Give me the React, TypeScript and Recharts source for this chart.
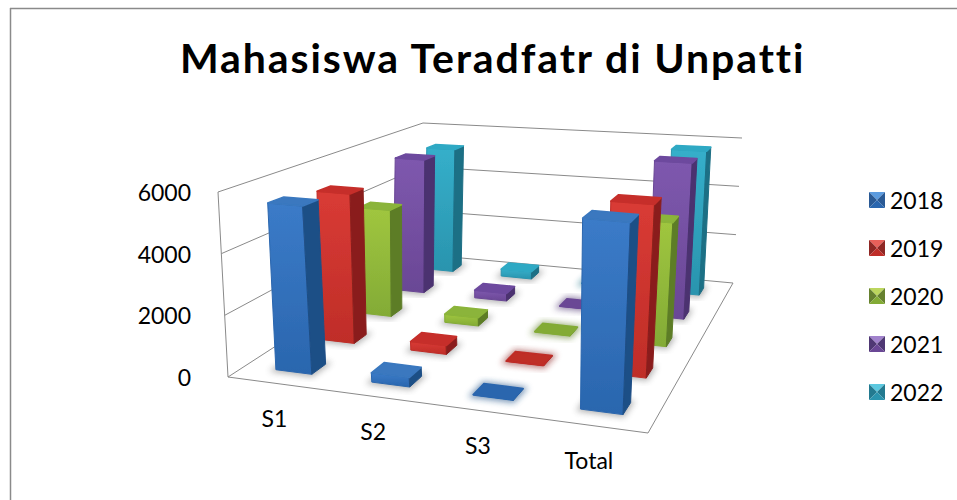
import React from 'react';
import { BarChart, Bar, XAxis, YAxis, Legend, Customized } from 'recharts';

const categories = ['S1', 'S2', 'S3', 'Total'];
const seriesNames = ['2018', '2019', '2020', '2021', '2022'];
const values2018 = [5500, 300, 20, 5900];
const values2019 = [5250, 300, 20, 5700];
const values2020 = [4000, 300, 20, 4350];
const values2021 = [5350, 300, 20, 5850];
const values2022 = [5250, 300, 20, 5750];
const yTicks = [0, 2000, 4000, 6000];
const rows = categories.map((c, i) => ({
  name: c,
  '2018': values2018[i], '2019': values2019[i], '2020': values2020[i], '2021': values2021[i], '2022': values2022[i],
}));

const palette: Record<string, { top: string; a: string; b: string; side: string; lite: string; dark: string }> = {
  '2018': { top: '#3a78bf', a: '#3b7bc8', b: '#2a66ae', side: '#1f4f86', lite: '#5b9bdf', dark: '#2a5a95' },
  '2019': { top: '#c62f2a', a: '#d93b35', b: '#bf2d28', side: '#8a1f1c', lite: '#e8605a', dark: '#8f2724' },
  '2020': { top: '#8bb43a', a: '#a0c63f', b: '#83ab36', side: '#5d7d27', lite: '#bcd65e', dark: '#66812f' },
  '2021': { top: '#6d4a9e', a: '#7e58ae', b: '#6a4795', side: '#4b3270', lite: '#a182cc', dark: '#4f3874' },
  '2022': { top: '#2fa9c4', a: '#35afca', b: '#2a94ae', side: '#1d6f85', lite: '#5cc8df', dark: '#237a90' },
};

// Camera: floor and ceiling quads of the 3D box, [front-left, front-right, back-right, back-left]
type P = [number, number];
const floorQuad: P[] = [[228, 377], [648, 433], [733, 283], [418, 254]];
const ceilQuad: P[] = [[218, 192], [660, 232], [742, 138], [423, 123]];

function homography(q: P[]) {
  const [[x0, y0], [x1, y1], [x2, y2], [x3, y3]] = q;
  const dx1 = x1 - x2, dx2 = x3 - x2, sx = x0 - x1 + x2 - x3;
  const dy1 = y1 - y2, dy2 = y3 - y2, sy = y0 - y1 + y2 - y3;
  const den = dx1 * dy2 - dx2 * dy1;
  const g = (sx * dy2 - dx2 * sy) / den;
  const h = (dx1 * sy - sx * dy1) / den;
  const a = x1 - x0 + g * x1, b = x3 - x0 + h * x3, c = x0;
  const d = y1 - y0 + g * y1, e = y3 - y0 + h * y3, f = y0;
  return (u: number, w: number): P => {
    const k = g * u + h * w + 1;
    return [(a * u + b * w + c) / k, (d * u + e * w + f) / k];
  };
}
const floorH = homography(floorQuad);
const ceilH = homography(ceilQuad);
const project = (u: number, w: number, t: number): P => {
  const p = floorH(u, w), q = ceilH(u, w);
  return [p[0] + (q[0] - p[0]) * t, p[1] + (q[1] - p[1]) * t];
};
const pts = (list: P[]) => list.map((p) => `${p[0].toFixed(1)},${p[1].toFixed(1)}`).join(' ');
const yMax = yTicks[yTicks.length - 1];

const BAR_U = 0.095;
const BAR_W = 0.062;
const U_SHIFT = 0.005;

const makeShape = (name: string, depth: number) => (props: any) => {
  const { index, height, background } = props;
  const t = background && background.height ? Math.max(0, height) / background.height : 0;
  const u0 = (index + 0.5) / categories.length - BAR_U / 2 + U_SHIFT, u1 = u0 + BAR_U;
  const w0 = (depth + 0.5) / seriesNames.length - BAR_W / 2, w1 = w0 + BAR_W;
  const c = palette[name];
  const fb0 = project(u0, w0, 0), fb1 = project(u1, w0, 0), bb1 = project(u1, w1, 0), bb0 = project(u0, w1, 0);
  const ft0 = project(u0, w0, t), ft1 = project(u1, w0, t), bt1 = project(u1, w1, t), bt0 = project(u0, w1, t);
  const flat = t < 0.01;
  return (
    <g>
      <polygon points={pts([fb0, fb1, bb1, bb0])} fill={flat ? c.side : '#555'} opacity={flat ? 0.6 : 0.45} stroke={flat ? c.side : '#555'} strokeWidth={5} filter="url(#soft)" />
      <g filter="url(#crisp)">
        <polygon points={pts([ft0, ft1, fb1, fb0])} fill={`url(#front${name})`} stroke={c.b} strokeWidth={1} strokeLinejoin="round" />
        <polygon points={pts([ft1, bt1, bb1, fb1])} fill={c.side} stroke={c.side} strokeWidth={1} strokeLinejoin="round" />
        <polygon points={pts([ft0, ft1, bt1, bt0])} fill={flat ? c.b : c.top} stroke={flat ? c.b : c.top} strokeWidth={1.5} strokeLinejoin="round" />
      </g>
    </g>
  );
};

const Walls = () => {
  const line = (a: P, b: P, key: string) => (
    <line key={key} x1={a[0]} y1={a[1]} x2={b[0]} y2={b[1]} stroke="#8a8a8a" strokeWidth={1} />
  );
  return (
    <g>
      {yTicks.map((v) => {
        const t = v / yMax;
        return (
          <g key={v}>
            {line(project(0, 0, t), project(0, 1, t), `l${v}`)}
            {line(project(0, 1, t), project(1, 1, t), `b${v}`)}
          </g>
        );
      })}
      {line(project(0, 0, 0), project(0, 0, 1), 'v')}
      {line(project(0, 0, 0), project(1, 0, 0), 'f')}
      {line(project(1, 0, 0), project(1, 1, 0), 'r')}
    </g>
  );
};

const XTick = (props: any) => {
  const i = categories.indexOf(props.payload.value);
  const p = project((i + 0.5) / categories.length, 0, 0);
  return (
    <text x={p[0] - 1} y={p[1] + 44} textAnchor="middle" fontFamily="Lato" fontSize={23} fill="#000">
      {props.payload.value}
    </text>
  );
};
const YTick = (props: any) => {
  const p = project(0, 0, props.payload.value / yMax);
  return (
    <text x={191} y={p[1] + 9} textAnchor="end" fontFamily="Lato" fontSize={23} fill="#000">
      {props.payload.value}
    </text>
  );
};

const Swatch = ({ name }: { name: string }) => {
  const c = palette[name];
  return (
    <svg width={16} height={16} style={{ display: 'block' }}>
      <polygon points="0,0 16,0 8,8" fill={c.lite} />
      <polygon points="0,0 8,8 0,16" fill={c.dark} />
      <polygon points="16,0 8,8 16,16" fill={c.dark} />
      <polygon points="0,16 16,16 8,8" fill={c.b} />
    </svg>
  );
};
const LegendBox = () => (
  <div style={{ position: 'relative', width: 100, height: 240 }}>
    {seriesNames.map((n, i) => (
      <div key={n} style={{ position: 'absolute', left: 0, top: i * 48, height: 30, display: 'flex', alignItems: 'center' }}>
        <Swatch name={n} />
        <span style={{ marginLeft: 5, fontFamily: 'Lato', fontSize: 23, lineHeight: '30px', color: '#000' }}>{n}</span>
      </div>
    ))}
  </div>
);

export default function App() {
  return (
    <div style={{ position: 'absolute', left: 0, top: 0, width: 957, height: 500, background: '#fff' }}>
      <BarChart width={957} height={500} data={rows} margin={{ top: 20, right: 20, bottom: 20, left: 20 }}>
        <defs>
          <filter id="soft" x="-50%" y="-50%" width="200%" height="200%"><feGaussianBlur stdDeviation="3" /></filter>
          <filter id="crisp" x="-10%" y="-10%" width="120%" height="120%"><feGaussianBlur stdDeviation="0.4" /></filter>
          {seriesNames.map((n) => (
            <linearGradient key={n} id={`front${n}`} x1="0" y1="0" x2="0" y2="1">
              <stop offset="0" stopColor={palette[n].a} />
              <stop offset="1" stopColor={palette[n].b} />
            </linearGradient>
          ))}
        </defs>
        <line x1={10} y1={8.5} x2={957} y2={8.5} stroke="#8a8a8a" strokeWidth={1.5} />
        <line x1={10.5} y1={8} x2={10.5} y2={500} stroke="#8a8a8a" strokeWidth={1.5} />
        <text x={180} y={73} fontFamily="Lato" fontWeight={700} fontSize={41} letterSpacing={1.9} fill="#000">
          Mahasiswa Teradfatr di Unpatti
        </text>
        <Customized component={Walls} />
        <XAxis dataKey="name" axisLine={false} tickLine={false} tick={XTick} interval={0} />
        <YAxis domain={[0, yMax]} ticks={yTicks} axisLine={false} tickLine={false} tick={YTick} />
        {[...seriesNames].reverse().map((n) => (
          <Bar key={n} dataKey={n} isAnimationActive={false} shape={makeShape(n, seriesNames.indexOf(n))} />
        ))}
        <Legend content={LegendBox} wrapperStyle={{ position: 'absolute', left: 869, top: 185, width: 100, bottom: 'auto' }} />
      </BarChart>
    </div>
  );
}
